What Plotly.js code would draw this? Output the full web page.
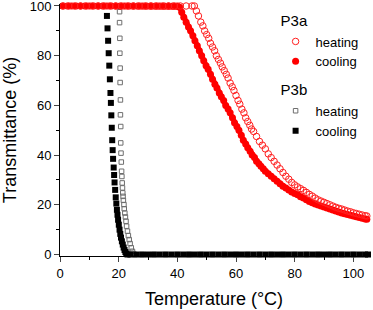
<!DOCTYPE html>
<html>
<head>
<meta charset="utf-8">
<script src="https://cdn.plot.ly/plotly-3.0.1.min.js"></script>
<style>html,body{margin:0;padding:0;background:#fff;}#chart{width:373px;height:310px;}</style>
</head>
<body>
<div id="chart"></div>
<script>
// P3a cooling (filled red circles)
const p3aCoolT = [1,2.5,4,5.5,7,8.5,10,11.5,13,14.5,16,17.5,19,20.5,22,23.5,25,26.5,28,29.5,31,32.5,34,35.5,37,38.5,40,
  40.8,41.5,42.2,43,43.8,44.5,45.3,46,46.8,47.5,48.3,49,49.8,50.5,51.3,52,52.8,53.5,54.3,55,55.8,56.5,57.3,58,58.8,59.5,60.3,61,61.8,62.5,63.3,64,64.8,65.5,66.3,67,67.8,68.5,69.3,70,
  71,72,73,74,75,76,77,78,79,80,81,82,83,84,85,86,87,88,89,90,91,92,93,94,95,96,97,98,99,100,101,102,103,104,104.6];
const p3aCoolY = [100,100,100,100,100,100,100,100,100,100,100,100,100,100,100,100,100,100,100,100,100,100,100,100,100,100,100,
  99.5,97.5,95.5,93.5,91.5,90,88,86,84,82,80,78,76,74.5,72.5,70.5,68.5,67,65,63.5,62,60,58.5,57,55,53,51.5,50,48,46,44.5,43,41.5,40,39,37.5,36.5,35.5,34.5,33.5,
  32.5,31.5,30.5,29.5,28.5,27.5,26.8,26,25.2,24.5,24,23.2,22.7,22,21.3,20.8,20.3,19.9,19.5,19.1,18.7,18.3,17.9,17.5,17.1,16.7,16.4,16.1,15.8,15.5,15.2,14.9,14.6,14.3,14.2];

// P3a heating (open red circles)
const p3aHeatT = [1,3,5,7,9,11,13,15,17,19,21,23,25,27,29,31,33,35,37,39,41,43,45,45.8,
  46.5,47.2,48,48.7,49.3,50,50.7,51.3,52,52.7,53.3,54,54.7,55.3,56,56.7,57.3,58,58.7,59.3,60,60.7,61.3,62,62.7,63.3,64,64.7,65.3,66,
  67,68,69,70,71,72,73,74,75,76,77,78,79,80,81,82,83,84,85,86,87,88,89,90,91,92,93,94,95,96,97,98,99,100,101,102,103,104,104.6];
const p3aHeatY = [100,100,100,100,100,100,100,100,100,100,100,100,100,100,100,100,100,100,100,100,100,100,100,100,
  98,96,93.5,92,90,88.5,87,85,83.5,82,80,78.5,77,75.5,74,72.5,71,69,67.5,66,64,62,60.5,58.5,57,55,53.5,52,50.5,49.5,
  47.5,45.5,44,42.5,40.5,39,37.5,36,34.5,33,31.5,30.3,29,28,27.2,26.5,25.8,25,24.2,23.5,22.7,22,21.5,21,20.5,20,19.5,19,18.6,18.3,17.9,17.5,17.2,16.8,16.5,16.2,15.9,15.6,15.5];

// P3b cooling (filled black squares)
const p3bCoolT = [1,2.5,4,5.5,7,8.5,10,11.5,13,14.5,15.2,15.8,
  16,16.2,16.4,16.6,16.8,17,17.2,17.35,17.5,17.65,17.8,17.95,18.1,18.3,18.45,18.6,18.8,19,19.2,19.4,19.6,19.8,20.05,20.3,20.55,20.8,21.1,21.4,21.7,22,22.3,22.6,23,
  24,26,28,30,32,34,36,38,40,42,44,46,48,50,52,54,56,58,60,62,64,66,68,70,72,74,76,78,80,82,84,86,88,90,92,94,96,98,100,102,104,105];
const p3bCoolY = [100,100,100,100,100,100,100,100,100,100,100,100,
  96,91,86,81,76,70.5,65,61,56,51,46,42,38.5,35,32,29,26,23,20.5,18,16,14,12,10,8.3,6.8,5.3,4,2.8,1.8,1,0.4,0,
  0,0,0,0,0,0,0,0,0,0,0,0,0,0,0,0,0,0,0,0,0,0,0,0,0,0,0,0,0,0,0,0,0,0,0,0,0,0,0,0,0,0];

// P3b heating (open grey squares)
const p3bHeatT = [1,3,5,7,9,11,13,15,17,19,
  20.3,20.3,20.4,20.4,20.5,20.5,20.6,20.6,20.7,20.7,20.8,20.9,21,21.1,21.2,21.3,21.4,21.5,21.6,21.8,21.9,22.1,22.3,22.5,22.7,23,23.3,23.6,23.9,24.3,24.7,25,25.5,
  28,32,36,40,44,48,52,56,60,64,68,72,76,80,84,88,92,96,100,104];
const p3bHeatY = [100,100,100,100,100,100,100,100,100,100,
  97.7,93.3,87,81,75,69.2,62.2,56.2,51.5,44.9,40.8,37.2,33.5,31.4,28.8,26.8,24.8,23.4,21.8,20.1,18.4,16.7,15.1,13.4,11.4,9.4,7.6,6,4.4,2.7,1.3,0.4,0,
  0,0,0,0,0,0,0,0,0,0,0,0,0,0,0,0,0,0,0];

const xTickVals = [0,20,40,60,80,100];
const yTickVals = [0,20,40,60,80,100];

const FONT = 'Arial, "Liberation Sans", sans-serif';

const traces = [
  {x: p3bHeatT, y: p3bHeatY, type: 'scatter', mode: 'markers', name: 'heating', cliponaxis: false,
   legendgroup: 'P3b', legendgrouptitle: {text: 'P3b', font: {size: 15, color: '#000'}}, legendrank: 3,
   marker: {symbol: 'square-open', size: 4.5, color: '#6e6e6e', line: {width: 1}}},
  {x: p3bCoolT, y: p3bCoolY, type: 'scatter', mode: 'markers', name: 'cooling', cliponaxis: false,
   legendgroup: 'P3b', legendrank: 4,
   marker: {symbol: 'square', size: 6, color: '#000'}},
  // dense band underlay for the P3a cooling markers
  {x: p3aCoolT, y: p3aCoolY, type: 'scatter', mode: 'lines', showlegend: false, hoverinfo: 'skip', cliponaxis: false,
   line: {color: '#ff0000', width: 5}},
  {x: p3aCoolT, y: p3aCoolY, type: 'scatter', mode: 'markers', name: 'cooling', cliponaxis: false,
   legendgroup: 'P3a', legendrank: 2,
   marker: {symbol: 'circle', size: 7, color: '#ff0000'}},
  {x: p3aHeatT, y: p3aHeatY, type: 'scatter', mode: 'markers', name: 'heating', cliponaxis: false,
   legendgroup: 'P3a', legendgrouptitle: {text: 'P3a', font: {size: 15, color: '#000'}}, legendrank: 1,
   marker: {symbol: 'circle-open', size: 6.5, color: '#ff2020', line: {width: 1}}}
];

const layout = {
  width: 373, height: 310,
  margin: {l: 60, r: 5, t: 4, b: 54},
  paper_bgcolor: '#fff', plot_bgcolor: '#fff',
  font: {family: FONT, size: 13, color: '#000'},
  showlegend: true,
  legend: {x: 0.70, y: 1.0, xanchor: 'left', yanchor: 'top', bgcolor: 'rgba(0,0,0,0)',
           traceorder: 'grouped', tracegroupgap: 7, font: {size: 13, color: '#000'}},
  xaxis: {range: [0, 105], tickvals: xTickVals, ticks: 'outside', ticklen: 5, tickwidth: 1,
          showline: true, linecolor: '#000', linewidth: 1, showgrid: false, zeroline: false,
          ticklabeloverflow: 'allow',
          tickfont: {size: 13}, title: {text: 'Temperature (°C)', font: {size: 18}, standoff: 12},
          minor: {dtick: 10, tick0: 0, ticks: 'outside', ticklen: 3, tickcolor: '#000', showgrid: false}},
  yaxis: {range: [-0.6, 100.8], tickvals: yTickVals, ticks: 'outside', ticklen: 5, tickwidth: 1,
          showline: true, linecolor: '#000', linewidth: 1, showgrid: false, zeroline: false,
          ticklabeloverflow: 'allow',
          tickfont: {size: 13}, title: {text: 'Transmittance (%)', font: {size: 18}, standoff: 15},
          minor: {dtick: 10, tick0: 0, ticks: 'outside', ticklen: 3, tickcolor: '#000', showgrid: false}}
};

Plotly.newPlot('chart', traces, layout, {displayModeBar: false, staticPlot: true});
</script>
</body>
</html>
